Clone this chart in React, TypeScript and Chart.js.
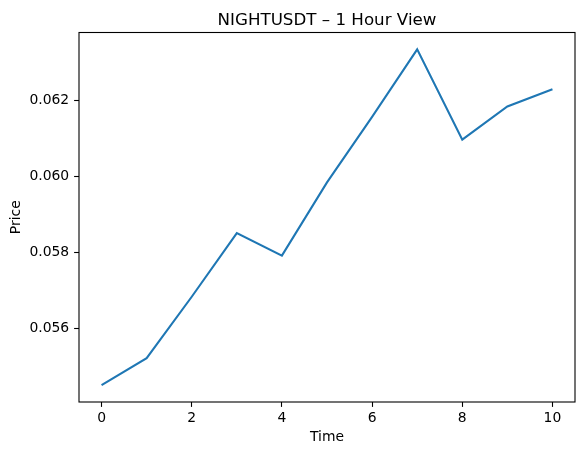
import React, { useEffect, useRef } from "react";
import { Chart, registerables } from "chart.js";

Chart.register(...registerables);

const TITLE = "NIGHTUSDT – 1 Hour View";
const X_LABEL = "Time";
const Y_LABEL = "Price";
const timeIndex = [0, 1, 2, 3, 4, 5, 6, 7, 8, 9, 10];
const prices = [0.05452, 0.05523, 0.05684, 0.05851, 0.05792, 0.05984, 0.06156, 0.06333, 0.06096, 0.06183, 0.06228];
const xTicks = [0, 2, 4, 6, 8, 10];
const yTicks = [0.056, 0.058, 0.06, 0.062];

const FONT = "'DejaVu Sans', sans-serif";

export default function App() {
  const ref = useRef<HTMLCanvasElement | null>(null);

  useEffect(() => {
    if (!ref.current) return;
    const frame = {
      id: "frame",
      afterDatasetsDraw(chart: any) {
        const { ctx, chartArea } = chart;
        ctx.save();
        ctx.strokeStyle = "#000";
        ctx.lineWidth = 1.1;
        ctx.strokeRect(chartArea.left, chartArea.top, chartArea.right - chartArea.left, chartArea.bottom - chartArea.top);
        ctx.fillStyle = "#000";
        ctx.font = `16.7px ${FONT}`;
        ctx.textAlign = "center";
        ctx.textBaseline = "alphabetic";
        ctx.fillText(TITLE, (chartArea.left + chartArea.right) / 2, chartArea.top - 7.5);
        ctx.restore();
      },
    };
    const yMin = Math.min(...prices);
    const yMax = Math.max(...prices);
    const yPad = (yMax - yMin) * 0.05;
    const xMin = Math.min(...timeIndex);
    const xMax = Math.max(...timeIndex);
    const xPad = (xMax - xMin) * 0.05;

    const chart = new Chart(ref.current, {
      type: "line",
      data: {
        datasets: [
          {
            data: timeIndex.map((t, i) => ({ x: t, y: prices[i] })),
            borderColor: "#1f77b4",
            borderWidth: 2.1,
            pointRadius: 0,
            tension: 0,
            fill: false,
          },
        ],
      },
      options: {
        animation: false,
        responsive: false,
        devicePixelRatio: 1,
        layout: { padding: { left: 0, right: 9, top: 32.5, bottom: 0 } },
        plugins: {
          legend: { display: false },
          title: { display: false },
          tooltip: { enabled: false },
        },
        scales: {
          x: {
            type: "linear",
            min: xMin - xPad,
            max: xMax + xPad,
            afterBuildTicks: (s: any) => {
              s.ticks = xTicks.map((v) => ({ value: v }));
            },
            afterFit: (s: any) => {
              s.height = 53;
            },
            ticks: {
              color: "#000",
              font: { family: FONT, size: 13.9 },
              padding: 3,
              maxRotation: 0,
              callback: (v: any) => String(v),
            },
            grid: { display: true, drawOnChartArea: false, drawTicks: true, tickLength: 4.9, tickColor: "#000", tickWidth: 1.1 },
            border: { display: false },
            title: {
              display: true,
              text: X_LABEL,
              color: "#000",
              font: { family: FONT, size: 13.9 },
              padding: { top: 0, bottom: 9 },
            },
          },
          y: {
            type: "linear",
            min: yMin - yPad,
            max: yMax + yPad,
            afterBuildTicks: (s: any) => {
              s.ticks = yTicks.map((v) => ({ value: v }));
            },
            afterFit: (s: any) => {
              s.width = 79;
            },
            ticks: {
              color: "#000",
              font: { family: FONT, size: 13.9 },
              padding: 4.9,
              callback: (v: any) => Number(v).toFixed(3),
            },
            grid: { display: true, drawOnChartArea: false, drawTicks: true, tickLength: 4.9, tickColor: "#000", tickWidth: 1.1 },
            border: { display: false },
            title: {
              display: true,
              text: Y_LABEL,
              color: "#000",
              font: { family: FONT, size: 13.9 },
              padding: { top: 8, bottom: 0 },
            },
          },
        },
      },
      plugins: [frame],
    } as any);
    return () => chart.destroy();
  }, []);

  return (
    <div style={{ position: "fixed", left: 0, top: 0, width: 584, height: 455, background: "#fff" }}>
      <canvas ref={ref} width={584} height={455} />
    </div>
  );
}
